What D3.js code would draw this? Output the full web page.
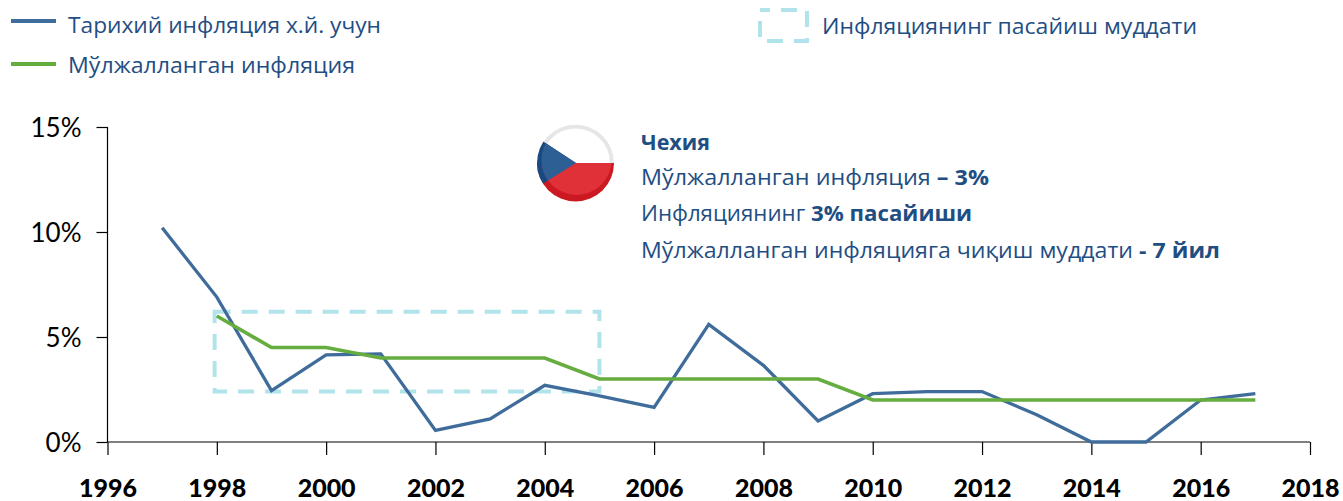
<!DOCTYPE html>
<html><head><meta charset="utf-8">
<script src="https://cdnjs.cloudflare.com/ajax/libs/d3/7.8.5/d3.min.js"></script>
<style>html,body{margin:0;padding:0;background:#fff}svg{display:block}text{font-family:"Open Sans","Noto Sans",sans-serif}</style>
</head><body><svg id="c" width="1343" height="501"></svg>
<script>
const years=[1997,1998,1999,2000,2001,2002,2003,2004,2005,2006,2007,2008,2009,2010,2011,2012,2013,2014,2015,2016,2017];
const historical=[10.2,6.9,2.45,4.15,4.2,0.55,1.1,2.7,2.2,1.65,5.6,3.65,1.0,2.3,2.4,2.4,1.3,0,0,2,2.3];
const targetYears=[1998,1999,2000,2001,2002,2003,2004,2005,2006,2007,2008,2009,2010,2011,2012,2013,2014,2015,2016,2017];
const target=[6,4.5,4.5,4,4,4,4,3,3,3,3,3,2,2,2,2,2,2,2,2];
const xTicks=d3.range(1996,2019,2);
const yTicks=[0,5,10,15];
const disinflation={x0:1997.96,x1:2005,y0:2.4,y1:6.2};
const seriesNames=["Тарихий инфляция х.й. учун","Мўлжалланган инфляция","Инфляциянинг пасайиш муддати"];
const BLUE="#3f6c9b",GREEN="#66ad3f",DASH="#b0e4ea",TXT="#1f4e83";
const svg=d3.select("#c");
const x=d3.scaleLinear().domain([1996,2018]).range([107.5,1310]);
const y=d3.scaleLinear().domain([0,15]).range([442,127]);

const ax=svg.append("g").attr("transform","translate(0,442)").call(d3.axisBottom(x).tickValues(xTicks).tickFormat(d3.format("d")).tickSize(13).tickPadding(0));
ax.selectAll("text").attr("dy",null).attr("y",55).style("font-family","Lato,'Liberation Sans',sans-serif").attr("font-size",25).attr("font-weight",900).attr("fill","#000").attr("textLength",58).attr("lengthAdjust","spacingAndGlyphs");
ax.selectAll("line,path").attr("stroke","#000").attr("stroke-width",1.2);
ax.select("path").attr("d","M107.5,0H1310");
const ay=svg.append("g").attr("transform","translate(107.5,0)").call(d3.axisLeft(y).tickValues(yTicks).tickFormat(d=>d+"%").tickSize(11).tickPadding(15));
ay.selectAll("text").style("font-family","Lato,'Liberation Sans',sans-serif").attr("font-size",26).attr("fill","#000").attr("dy","0.36em");
ay.selectAll("line,path").attr("stroke","#000").attr("stroke-width",1.2);
ay.select("path").attr("d",`M0,${y(15)}V${y(0)}`);

svg.append("rect").attr("x",x(disinflation.x0)).attr("y",y(disinflation.y1)).attr("width",x(disinflation.x1)-x(disinflation.x0)).attr("height",y(disinflation.y0)-y(disinflation.y1))
 .attr("fill","none").attr("stroke",DASH).attr("stroke-width",4).attr("stroke-dasharray","16 11");

const line=d3.line().x(d=>x(d[0])).y(d=>y(d[1]));
svg.append("path").attr("d",line(d3.zip(years,historical))).attr("fill","none").attr("stroke",BLUE).attr("stroke-width",3.3);
svg.append("path").attr("d",line(d3.zip(targetYears,target))).attr("fill","none").attr("stroke",GREEN).attr("stroke-width",3.6);

// legend
svg.append("line").attr("x1",11).attr("x2",56).attr("y1",21).attr("y2",21).attr("stroke",BLUE).attr("stroke-width",4);
svg.append("line").attr("x1",11).attr("x2",56).attr("y1",64).attr("y2",64).attr("stroke",GREEN).attr("stroke-width",4);
const leg=(t,xx,yy,w)=>svg.append("text").attr("x",xx).attr("y",yy).attr("font-size",21).attr("fill",TXT).attr("textLength",w).attr("lengthAdjust","spacingAndGlyphs").text(t);
leg(seriesNames[0],68,33,313);leg(seriesNames[1],68,73,287);leg(seriesNames[2],822,34,375);
svg.append("rect").attr("x",760).attr("y",10).attr("width",47).attr("height",31).attr("fill","none").attr("stroke",DASH).attr("stroke-width",4).attr("stroke-dasharray","16 11").attr("stroke-dashoffset",6);

// flag
const defs=svg.append("defs");
defs.append("clipPath").attr("id","fo").append("circle").attr("cx",575.5).attr("cy",163).attr("r",38.5);
defs.append("clipPath").attr("id","fi").append("circle").attr("cx",576.5).attr("cy",160).attr("r",35);
const f=svg.append("g").attr("clip-path","url(#fo)");
f.append("rect").attr("x",530).attr("y",120).attr("width",90).attr("height",90).attr("fill","#fff");
f.append("path").attr("d","M539,163A36.5,36.5 0 0 1 612,163").attr("fill","none").attr("stroke","#e6e6e6").attr("stroke-width",4);
f.append("rect").attr("x",530).attr("y",163).attr("width",90).attr("height",45).attr("fill","#cc1820");
f.append("path").attr("d","M576,163L544,142L530,130V190L544,183Z").attr("fill","#174a80");
const fi=f.append("g").attr("clip-path","url(#fi)");
fi.append("rect").attr("x",530).attr("y",163).attr("width",90).attr("height",45).attr("fill","#e03138");
fi.append("path").attr("d","M576,163L544,142L530,130V190L544,183Z").attr("fill","#2e5f94");

// annotation
const anno=[[[ "Чехия",1]],[["Мўлжалланган инфляция ",0],["– 3%",1]],[["Инфляциянинг ",0],["3% пасайиши",1]],[["Мўлжалланган инфляцияга чиқиш муддати ",0],["- 7 йил",1]]];
const annoY=[150,185,221,258],annoW=[69,348,331,579];
anno.forEach((row,i)=>{
 const t=svg.append("text").attr("x",641).attr("y",annoY[i]).attr("font-size",21).attr("fill",TXT).attr("textLength",annoW[i]).attr("lengthAdjust","spacingAndGlyphs");
 row.forEach(r=>t.append("tspan").attr("font-weight",r[1]?700:400).text(r[0]));
});
</script></body></html>
